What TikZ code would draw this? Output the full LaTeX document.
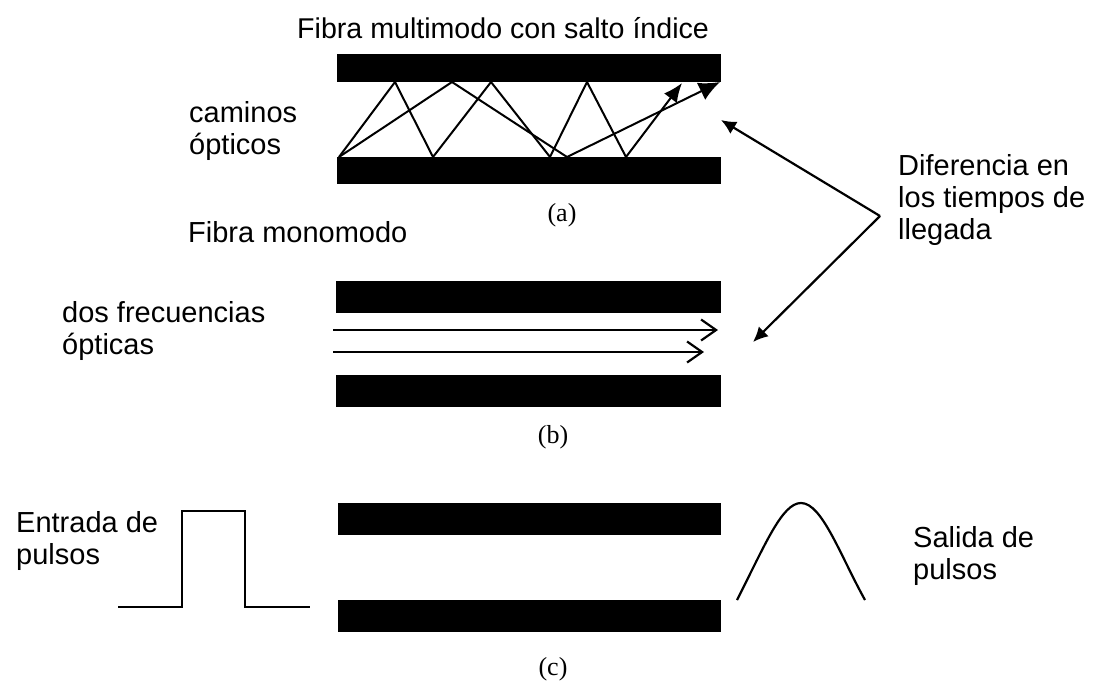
\documentclass[tikz,border=0pt]{standalone}
\usepackage{fontspec}
\setmainfont{Liberation Sans}
\newfontfamily\capfont{Liberation Serif}
\usetikzlibrary{positioning, arrows.meta}

\begin{document}
\begin{tikzpicture}[x=1pt, y=-1pt]
 \tikzstyle{bar} = [fill=black, rectangle, inner sep=0pt, minimum width=384pt]
 \tikzstyle{wire} = [line width=2.2pt]
 \tikzstyle{ray} = [line width=2pt, line join=miter]
 \tikzstyle{lbl} = [anchor=west, inner sep=0pt, align=left, font=\fontsize{29}{32}\selectfont]
 \tikzstyle{capt} = [inner sep=0pt, font=\capfont\fontsize{26}{30}\selectfont]
 \useasboundingbox (0,0) rectangle (1102,686);

 % bars
 \node [bar, minimum height=28pt, anchor=north west] (A1) at (337,54) {};
 \node [bar, minimum height=27pt, anchor=north west] (A2) at (337,157) {};
 \node [bar, minimum height=32pt, minimum width=385pt, anchor=north west] (B1) at (336,281) {};
 \node [bar, minimum height=32pt, minimum width=385pt, anchor=north west] (B2) at (336,375) {};
 \node [bar, minimum height=32pt, minimum width=383pt, anchor=north west] (C1) at (338,503) {};
 \node [bar, minimum height=32pt, minimum width=383pt, anchor=north west] (C2) at (338,600) {};

 % texts
 \node [lbl, font=\fontsize{28.6}{32}\selectfont] (title) at (297,28) {Fibra multimodo con salto índice};
 \node [lbl] (caminos) at (189,131) {caminos\\ópticos};
 \node [lbl] (mono) at (188,232) {Fibra monomodo};
 \node [lbl] (frec) at (62,331) {dos frecuencias\\ópticas};
 \node [lbl] (dif) at (898,200) {Diferencia en\\los tiempos de\\llegada};
 \node [lbl] (entrada) at (16,541) {Entrada de\\pulsos};
 \node [lbl] (salida) at (913,556) {Salida de\\pulsos};
 \node [capt] (capa) at (562,215) {(a)};
 \node [capt] (capb) at (553,437) {(b)};
 \node [capt] (capc) at (553,669) {(c)};

 % reflection points
 \coordinate (s) at (339,157);
 \coordinate (p1) at (395,82);
 \coordinate (p2) at (433,157);
 \coordinate (p3) at (491,82);
 \coordinate (p4) at (550,157);
 \coordinate (p5) at (587,82);
 \coordinate (p6) at (626,157);
 \coordinate (p7) at (682,83);
 \coordinate (q1) at (452,82);
 \coordinate (q2) at (567,157);
 \coordinate (q3) at (720,82);
 \draw [ray, -{Latex[length=19pt, width=16pt]}] (s) -- (p1) -- (p2) -- (p3) -- (p4) -- (p5) -- (p6) -- (p7);
 \draw [ray, -{Latex[length=21pt, width=19pt]}] (s) -- (q1) -- (q2) -- (q3);

 % two frequencies
 \coordinate (f1) at (333,330);
 \coordinate (f2) at (718,330);
 \coordinate (g1) at (333,352);
 \coordinate (g2) at (704,352);
 \draw [wire, -{Straight Barb[length=15pt, width=21pt]}] (f1) -- (f2);
 \draw [wire, -{Straight Barb[length=15pt, width=21pt]}] (g1) -- (g2);

 % arrival difference
 \coordinate (v) at (880,216);
 \coordinate (u1) at (721,120);
 \coordinate (u2) at (753,342);
 \draw [wire, -{Latex[length=15pt, width=14pt]}] (v) -- (u1);
 \draw [wire, -{Latex[length=15pt, width=14pt]}] (v) -- (u2);

 % pulses
 \coordinate (i1) at (118,607);
 \coordinate (i2) at (182,607);
 \coordinate (i3) at (182,511);
 \coordinate (i4) at (245,511);
 \coordinate (i5) at (245,607);
 \coordinate (i6) at (310,607);
 \draw [wire] (i1) -- (i2) -- (i3) -- (i4) -- (i5) -- (i6);
 \coordinate (o1) at (737,600);
 \coordinate (o2) at (801,503);
 \coordinate (o3) at (865,600);
 \draw [wire] (o1) .. controls (765,545) and (782,503) .. (o2) .. controls (822,503) and (840,555) .. (o3);
\end{tikzpicture}
\end{document}
